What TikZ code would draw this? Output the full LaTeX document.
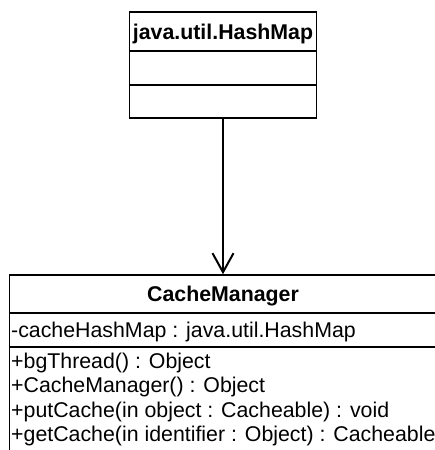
\documentclass[tikz,border=0pt]{standalone}
\usepackage{fontspec}
\setmainfont{Liberation Sans}
\usetikzlibrary{arrows.meta}
\begin{document}
\begin{tikzpicture}[x=1pt,y=1pt,
  classbox/.style={draw=black, line width=1.5pt, fill=white, inner sep=0pt},
  title/.style={font=\fontsize{21.33}{24.5}\selectfont\bfseries, anchor=base, inner sep=0pt},
  member/.style={font=\fontsize{21.33}{24.5}\selectfont, anchor=base west, inner sep=0pt},
  assoc/.style={line width=2pt, -{Straight Barb[length=19pt,width=21pt,line width=2pt]}}]
\useasboundingbox (0,0) rectangle (435,-450);
\clip (0,0) rectangle (435,-450);

% java.util.HashMap class box
\node[classbox, minimum width=187pt, minimum height=106pt] (hm) at (223,-65) {};
\draw[line width=1.5pt] (hm.west |- 0,-51) -- (hm.east |- 0,-51);
\draw[line width=1.5pt] (hm.west |- 0,-85) -- (hm.east |- 0,-85);
\node[title] (hmname) at (223,-39) {java.util.HashMap};

% CacheManager class box (runs past the lower and right edges)
\node[classbox, minimum width=427pt, minimum height=200pt] (cm) at (223,-375) {};
\draw[line width=1.5pt] (cm.west |- 0,-313) -- (cm.east |- 0,-313);
\draw[line width=1.5pt] (cm.west |- 0,-347) -- (cm.east |- 0,-347);
\node[title] (cmname) at (223,-301.5) {CacheManager};
\node[member] (attr) at (11,-337.5) {-cacheHashMap : java.util.HashMap};
\node[member] (op1) at (11,-368) {+bgThread() : Object};
\node[member] (op2) at (11,-392.5) {+CacheManager() : Object};
\node[member] (op3) at (11,-417) {+putCache(in object : Cacheable) : void};
\node[member] (op4) at (11,-441.5) {+getCache(in identifier : Object) : Cacheable};

% association from CacheManager to HashMap
\draw[assoc] (hm.south) -- (cm.north);
\end{tikzpicture}
\end{document}
